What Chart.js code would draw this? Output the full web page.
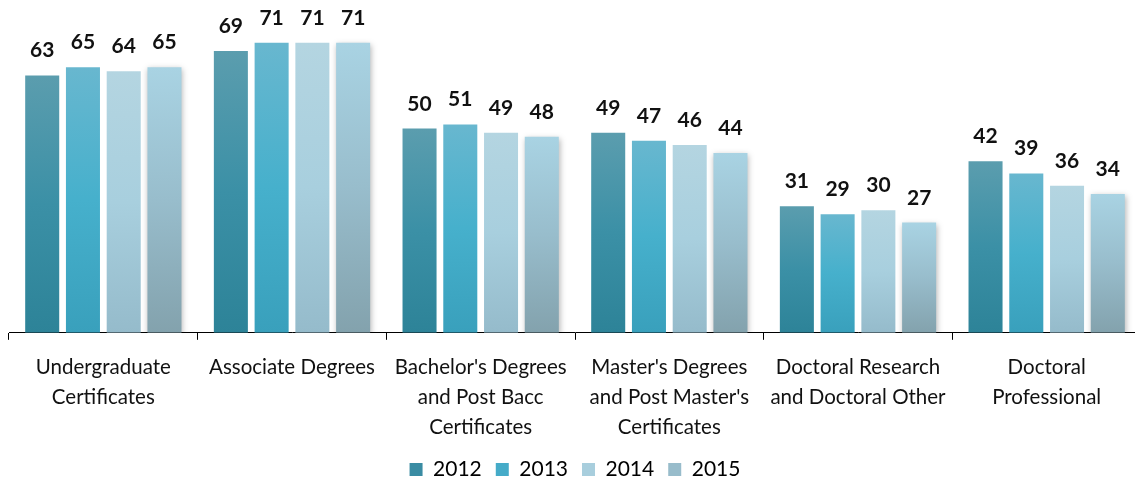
<!DOCTYPE html>
<html>
<head>
<meta charset="utf-8">
<script src="https://cdn.jsdelivr.net/npm/chart.js@4/dist/chart.umd.min.js"></script>
<style>
  html, body { margin: 0; padding: 0; background: #fff; overflow: hidden; }
  #wrap { width: 1142px; height: 485px; position: relative; }
</style>
</head>
<body>
<div id="wrap"><canvas id="canvas"></canvas></div>
<script>
// categories (split into lines like the original)
const categories = [
    ["Undergraduate", "Certificates"],
    ["Associate Degrees"],
    ["Bachelor's Degrees", "and Post Bacc", "Certificates"],
    ["Master's Degrees", "and Post Master's", "Certificates"],
    ["Doctoral Research", "and Doctoral Other"],
    ["Doctoral", "Professional"]
]
const years = ["2012", "2013", "2014", "2015"]

// values per year
const values2012 = [63, 69, 50, 49, 31, 42]
const values2013 = [65, 71, 51, 47, 29, 39]
const values2014 = [64, 71, 49, 46, 30, 36]
const values2015 = [65, 71, 48, 44, 27, 34]

// gradient stops per year: top, middle, bottom
const gradients = [
    ["#5b9dae", "#3b90a6", "#2d8398"],
    ["#68b7cf", "#46b0cc", "#39a0bc"],
    ["#b4d5e1", "#a8cfde", "#95bbcb"],
    ["#a9d3e3", "#98bdcc", "#83a2ad"]
]
const legendColors = ["#3a8ca3", "#45abc8", "#a8cedd", "#98bccb"]

const FONT = "Lato, 'Noto Sans', sans-serif"

// each bar gets its own top-to-bottom gradient
const barGradient = (i) => (ctx) => {
    const chart = ctx.chart
    const { chartArea, scales } = chart
    if (!chartArea || ctx.type !== 'data') return gradients[i][1]
    const top = scales.y.getPixelForValue(ctx.parsed.y)
    const bottom = scales.y.getPixelForValue(0)
    const g = chart.ctx.createLinearGradient(0, top, 0, bottom)
    g.addColorStop(0, gradients[i][0])
    g.addColorStop(0.5, gradients[i][1])
    g.addColorStop(1, gradients[i][2])
    return g
}

// soft shadow behind the 2015 bars
const shadowPlugin = {
    id: 'shadow',
    beforeDatasetDraw(chart, args) {
        if (args.index !== 3) return
        const c = chart.ctx
        c.save()
        c.shadowColor = "rgba(0,0,0,0.3)"
        c.shadowBlur = 6
        c.shadowOffsetX = 1
        c.shadowOffsetY = 2
    },
    afterDatasetDraw(chart, args) {
        if (args.index !== 3) return
        chart.ctx.restore()
    }
}

// value labels above the bars
const valueLabels = {
    id: 'valueLabels',
    afterDatasetsDraw(chart) {
        const c = chart.ctx
        c.save()
        c.font = "bold 21px " + FONT
        c.fillStyle = "#111"
        c.textAlign = "center"
        c.textBaseline = "alphabetic"
        chart.data.datasets.forEach((ds, i) => {
            chart.getDatasetMeta(i).data.forEach((bar, j) => {
                c.fillText(ds.data[j], bar.x, bar.y - 18)
            })
        })
        c.restore()
    }
}

const allValues = [values2012, values2013, values2014, values2015]

const ctx = document.querySelector("#canvas")
const myChart = new Chart(ctx, {
    type: 'bar',
    data: {
        labels: categories,
        datasets: years.map((y, i) => ({
            label: y,
            data: allValues[i],
            backgroundColor: barGradient(i),
            borderWidth: 0,
            categoryPercentage: 0.864,
            barPercentage: 0.835
        }))
    },
    options: {
        responsive: true,
        maintainAspectRatio: false,
        animation: false,
        layout: { padding: { top: 6, left: 9, right: 1, bottom: -5 } },
        scales: {
            y: {
                display: false,
                min: 0,
                max: 80
            },
            x: {
                // labels may run into the space above the legend
                afterFit: (scale) => { scale.height -= 10 },
                grid: {
                    offset: true,
                    drawOnChartArea: false,
                    tickLength: 7,
                    color: "#000"
                },
                border: { color: "#000", width: 1 },
                ticks: {
                    color: "#111",
                    padding: 13,
                    maxRotation: 0,
                    autoSkip: false,
                    font: { family: FONT, size: 20.5, lineHeight: 1.45 }
                }
            }
        },
        plugins: {
            tooltip: { enabled: false },
            legend: {
                position: 'bottom',
                labels: {
                    color: "#111",
                    boxWidth: 13,
                    boxHeight: 13,
                    padding: 14,
                    font: { family: FONT, size: 21 },
                    generateLabels: (chart) => years.map((y, i) => ({
                        text: y,
                        fillStyle: legendColors[i],
                        strokeStyle: legendColors[i],
                        lineWidth: 0,
                        datasetIndex: i
                    }))
                }
            }
        }
    },
    plugins: [shadowPlugin, valueLabels]
});
</script>
</body>
</html>
